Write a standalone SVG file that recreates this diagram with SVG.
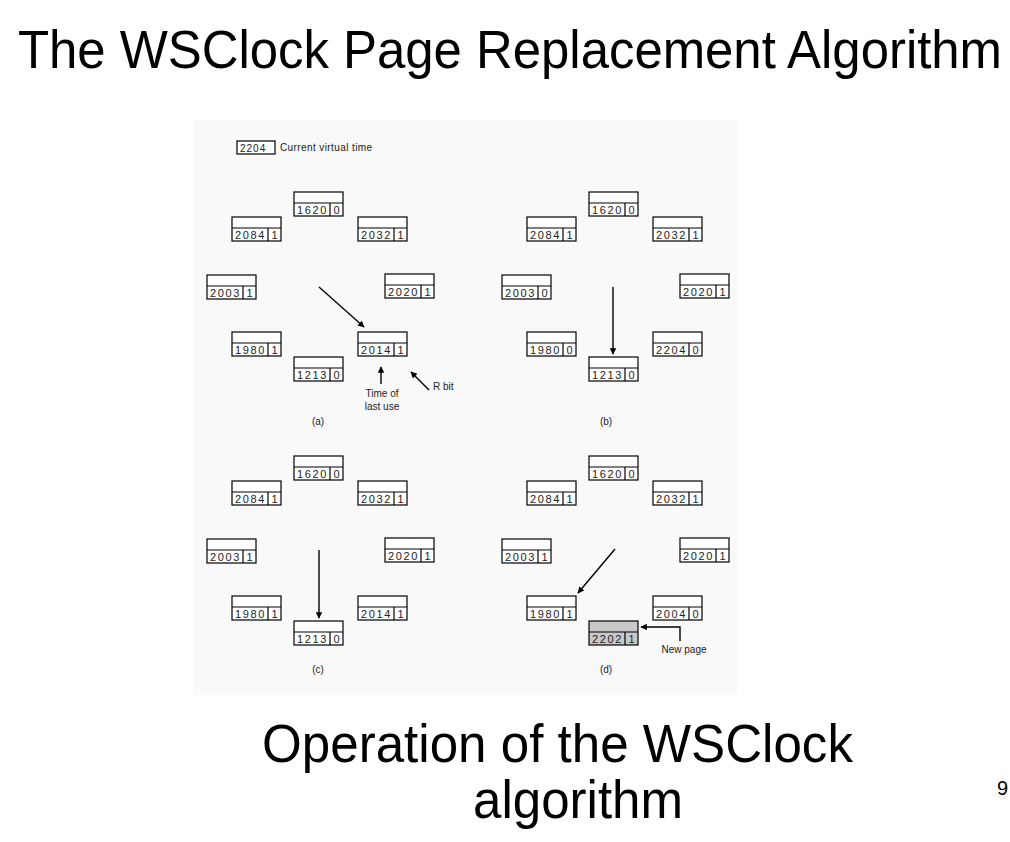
<svg xmlns="http://www.w3.org/2000/svg" width="1010" height="842" viewBox="0 0 1010 842">
  <defs>
    <marker id="arrow" viewBox="0 0 10 10" refX="9" refY="5" markerWidth="9" markerHeight="6.5" markerUnits="userSpaceOnUse" orient="auto">
      <path d="M0,0 L10,5 L0,10 Z" fill="#000"/>
    </marker>
    <!-- one clock-list entry: empty upper field, time of last use, R bit -->
    <g id="entry">
      <rect x="0" y="0" width="49" height="24" class="box"/>
      <line x1="0" y1="11" x2="49" y2="11" class="rule"/>
      <line x1="36" y1="11" x2="36" y2="24" class="rule"/>
    </g>
  </defs>
  <style>
    .title { font-family: "Liberation Sans", Arial, sans-serif; fill: #000; }
    .box { fill: #fff; stroke: #000; stroke-width: 1.2; }
    .box.new { fill: #c8c8c8; }
    .rule { stroke: #000; stroke-width: 1.2; }
    .num { font-family: "Liberation Sans", Arial, sans-serif; font-size: 11px; letter-spacing: 1.6px; fill: #222; }
    .bit { font-family: "Liberation Sans", Arial, sans-serif; font-size: 11px; fill: #222; text-anchor: middle; }
    .lbl { font-family: "Liberation Sans", Arial, sans-serif; font-size: 10px; fill: #222; }
    .mid { text-anchor: middle; }
    .conn { stroke: #000; stroke-width: 1.4; fill: none; marker-end: url(#arrow); }
  </style>

  <rect x="0" y="0" width="1010" height="842" fill="#fff"/>

  <!-- headings, slightly stretched vertically -->
  <text class="title" transform="translate(18,68) scale(1,1.06)" x="0" y="0" font-size="50.5" textLength="984" lengthAdjust="spacingAndGlyphs">The WSClock Page Replacement Algorithm</text>
  <text class="title" transform="translate(262,762) scale(1,1.06)" x="0" y="0" font-size="51" textLength="591" lengthAdjust="spacingAndGlyphs">Operation of the WSClock</text>
  <text class="title" transform="translate(473,818) scale(1,1.06)" x="0" y="0" font-size="51" textLength="210" lengthAdjust="spacingAndGlyphs">algorithm</text>
  <text class="title" x="997" y="795" font-size="20">9</text>

  <!-- figure panel -->
  <rect x="193" y="120" width="544" height="575" fill="#f9f9f9"/>

  <!-- legend -->
  <g id="legend">
    <rect x="237" y="141" width="38" height="13" class="box"/>
    <text class="num" x="240" y="151.5" style="font-size:10px;letter-spacing:1px">2204</text>
    <text class="lbl" x="280" y="151" style="letter-spacing:0.4px">Current virtual time</text>
  </g>

  <!-- panel (a) -->
  <g id="a-1620" transform="translate(294,192)"><use href="#entry"/><text class="num" x="3" y="21.5">1620</text><text class="bit" x="42.5" y="21.5">0</text></g>
  <g id="a-2084" transform="translate(232,217)"><use href="#entry"/><text class="num" x="3" y="21.5">2084</text><text class="bit" x="42.5" y="21.5">1</text></g>
  <g id="a-2032" transform="translate(358,217)"><use href="#entry"/><text class="num" x="3" y="21.5">2032</text><text class="bit" x="42.5" y="21.5">1</text></g>
  <g id="a-2003" transform="translate(207,275)"><use href="#entry"/><text class="num" x="3" y="21.5">2003</text><text class="bit" x="42.5" y="21.5">1</text></g>
  <g id="a-2020" transform="translate(385,274)"><use href="#entry"/><text class="num" x="3" y="21.5">2020</text><text class="bit" x="42.5" y="21.5">1</text></g>
  <g id="a-1980" transform="translate(232,332)"><use href="#entry"/><text class="num" x="3" y="21.5">1980</text><text class="bit" x="42.5" y="21.5">1</text></g>
  <g id="a-2014" transform="translate(358,332)"><use href="#entry"/><text class="num" x="3" y="21.5">2014</text><text class="bit" x="42.5" y="21.5">1</text></g>
  <g id="a-1213" transform="translate(294,357)"><use href="#entry"/><text class="num" x="3" y="21.5">1213</text><text class="bit" x="42.5" y="21.5">0</text></g>
  <g id="a-labels">
    <text class="lbl mid" x="382" y="397">Time of</text>
    <text class="lbl mid" x="382" y="410">last use</text>
    <text class="lbl" x="433" y="390">R bit</text>
    <text class="lbl mid" x="318" y="425">(a)</text>
  </g>

  <!-- panel (b) -->
  <g id="b-1620" transform="translate(589,192)"><use href="#entry"/><text class="num" x="3" y="21.5">1620</text><text class="bit" x="42.5" y="21.5">0</text></g>
  <g id="b-2084" transform="translate(527,217)"><use href="#entry"/><text class="num" x="3" y="21.5">2084</text><text class="bit" x="42.5" y="21.5">1</text></g>
  <g id="b-2032" transform="translate(653,217)"><use href="#entry"/><text class="num" x="3" y="21.5">2032</text><text class="bit" x="42.5" y="21.5">1</text></g>
  <g id="b-2003" transform="translate(502,275)"><use href="#entry"/><text class="num" x="3" y="21.5">2003</text><text class="bit" x="42.5" y="21.5">0</text></g>
  <g id="b-2020" transform="translate(680,274)"><use href="#entry"/><text class="num" x="3" y="21.5">2020</text><text class="bit" x="42.5" y="21.5">1</text></g>
  <g id="b-1980" transform="translate(527,332)"><use href="#entry"/><text class="num" x="3" y="21.5">1980</text><text class="bit" x="42.5" y="21.5">0</text></g>
  <g id="b-2204" transform="translate(653,332)"><use href="#entry"/><text class="num" x="3" y="21.5">2204</text><text class="bit" x="42.5" y="21.5">0</text></g>
  <g id="b-1213" transform="translate(589,357)"><use href="#entry"/><text class="num" x="3" y="21.5">1213</text><text class="bit" x="42.5" y="21.5">0</text></g>
  <g id="b-labels"><text class="lbl mid" x="606" y="425">(b)</text></g>

  <!-- panel (c) -->
  <g id="c-1620" transform="translate(294,456)"><use href="#entry"/><text class="num" x="3" y="21.5">1620</text><text class="bit" x="42.5" y="21.5">0</text></g>
  <g id="c-2084" transform="translate(232,481)"><use href="#entry"/><text class="num" x="3" y="21.5">2084</text><text class="bit" x="42.5" y="21.5">1</text></g>
  <g id="c-2032" transform="translate(358,481)"><use href="#entry"/><text class="num" x="3" y="21.5">2032</text><text class="bit" x="42.5" y="21.5">1</text></g>
  <g id="c-2003" transform="translate(207,539)"><use href="#entry"/><text class="num" x="3" y="21.5">2003</text><text class="bit" x="42.5" y="21.5">1</text></g>
  <g id="c-2020" transform="translate(385,538)"><use href="#entry"/><text class="num" x="3" y="21.5">2020</text><text class="bit" x="42.5" y="21.5">1</text></g>
  <g id="c-1980" transform="translate(232,596)"><use href="#entry"/><text class="num" x="3" y="21.5">1980</text><text class="bit" x="42.5" y="21.5">1</text></g>
  <g id="c-2014" transform="translate(358,596)"><use href="#entry"/><text class="num" x="3" y="21.5">2014</text><text class="bit" x="42.5" y="21.5">1</text></g>
  <g id="c-1213" transform="translate(294,621)"><use href="#entry"/><text class="num" x="3" y="21.5">1213</text><text class="bit" x="42.5" y="21.5">0</text></g>
  <g id="c-labels"><text class="lbl mid" x="318" y="673">(c)</text></g>

  <!-- panel (d) -->
  <g id="d-1620" transform="translate(589,456)"><use href="#entry"/><text class="num" x="3" y="21.5">1620</text><text class="bit" x="42.5" y="21.5">0</text></g>
  <g id="d-2084" transform="translate(527,481)"><use href="#entry"/><text class="num" x="3" y="21.5">2084</text><text class="bit" x="42.5" y="21.5">1</text></g>
  <g id="d-2032" transform="translate(653,481)"><use href="#entry"/><text class="num" x="3" y="21.5">2032</text><text class="bit" x="42.5" y="21.5">1</text></g>
  <g id="d-2003" transform="translate(502,539)"><use href="#entry"/><text class="num" x="3" y="21.5">2003</text><text class="bit" x="42.5" y="21.5">1</text></g>
  <g id="d-2020" transform="translate(680,538)"><use href="#entry"/><text class="num" x="3" y="21.5">2020</text><text class="bit" x="42.5" y="21.5">1</text></g>
  <g id="d-1980" transform="translate(527,596)"><use href="#entry"/><text class="num" x="3" y="21.5">1980</text><text class="bit" x="42.5" y="21.5">1</text></g>
  <g id="d-2004" transform="translate(653,596)"><use href="#entry"/><text class="num" x="3" y="21.5">2004</text><text class="bit" x="42.5" y="21.5">0</text></g>
  <g id="d-2202" transform="translate(589,621)">
    <rect x="0" y="0" width="49" height="24" class="box new"/>
    <line x1="0" y1="11" x2="49" y2="11" class="rule"/>
    <line x1="36" y1="11" x2="36" y2="24" class="rule"/>
    <text class="num" x="3" y="21.5">2202</text><text class="bit" x="42.5" y="21.5">1</text>
  </g>
  <g id="d-labels">
    <text class="lbl mid" x="684" y="653">New page</text>
    <text class="lbl mid" x="606" y="673">(d)</text>
  </g>

  <!-- clock hands and callouts -->
  <g id="connectors">
    <line class="conn" x1="319" y1="287" x2="364" y2="327"/>
    <line class="conn" x1="381" y1="384" x2="381" y2="367"/>
    <line class="conn" x1="429" y1="390" x2="411" y2="372"/>
    <line class="conn" x1="613" y1="287" x2="613" y2="354"/>
    <line class="conn" x1="319" y1="550" x2="319" y2="618"/>
    <line class="conn" x1="615" y1="549" x2="578" y2="593"/>
    <polyline class="conn" points="680,641 680,627 641,627"/>
  </g>
</svg>
